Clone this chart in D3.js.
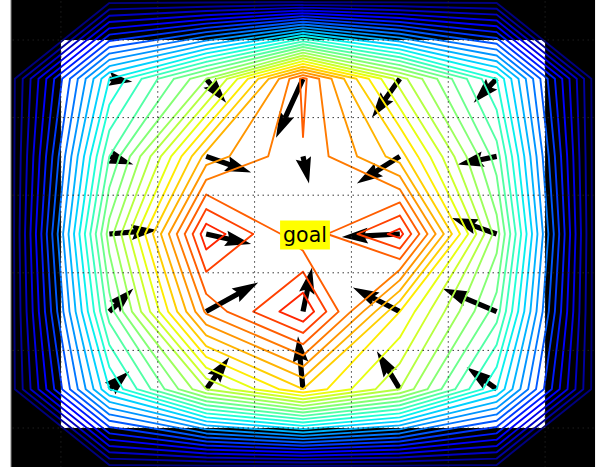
<!DOCTYPE html>
<html><head><meta charset="utf-8">
<script src="https://cdn.jsdelivr.net/npm/d3@7"></script>
<style>body{margin:0;background:#fff} svg{display:block}</style>
</head><body>
<svg id="c" width="597" height="467"></svg>
<script>
// scalar field sampled on a 7x7 grid of nodes at -0.5, 0.5, ..., 5.5 (rows top to bottom)
const B = -0.3;
const fieldRows = [
  [B, B,    B,    B,    B,    B,    B],
  [B, 12,   18,   27.3, 19.5, 13,   B],
  [B, 15,   24.4, 26.9, 23.5, 15.5, B],
  [B, 17.5, 29.7, 26.2, 29.4, 17.5, B],
  [B, 15.5, 26.2, 29.9, 22.0, 15.5, B],
  [B, 12,   19,   23,   19,   12,   B],
  [B, B,    B,    B,    B,    B,    B]
];
const fieldCoords = [-0.5, 0.5, 1.5, 2.5, 3.5, 4.5, 5.5];
const levels = d3.range(0, 30);
const colorNormMax = 33.3;
// quiver components (per cell, rows top to bottom), v positive = up
const arrowU = [
  [2.3, 2.0, -2.7, -2.8, -2.3],
  [2.4, 4.5,  0.6, -4.3, -3.9],
  [4.8, 4.5,  0.0, -5.8, -4.5],
  [2.4, 5.2,  0.9, -4.7, -5.4],
  [2.0, 2.3, -0.5, -2.3, -3.0]
];
const arrowV = [
  [-0.3, -2.4, -5.9, -3.9, -2.4],
  [-0.8, -1.6, -2.7, -2.7, -0.8],
  [ 0.4, -1.0,  0.0, -0.3,  1.6],
  [ 2.3,  2.9,  4.4,  2.4,  2.3],
  [ 1.8,  3.2,  5.3,  3.8,  2.2]
];
const gridTicks = [0, 1, 2, 3, 4, 5];
const goalLabel = "goal";
const goalCell = [2, 2];

const svg = d3.select("#c");
const xs = d3.scaleLinear().domain([-0.5, 5.5]).range([12.5, 593.5]);
const ys = d3.scaleLinear().domain([-0.5, 5.5]).range([1.2, 466.8]);
const arrowScale = d3.scaleLinear().domain([0, 1]).range([0, 10]);

// jet colormap (matplotlib segment data)
function seg(pts, t) {
  for (let i = 1; i < pts.length; i++) {
    if (t <= pts[i][0]) {
      const a = pts[i-1], b = pts[i];
      return a[1] + (b[1]-a[1]) * (t - a[0]) / (b[0]-a[0]);
    }
  }
  return pts[pts.length-1][1];
}
const jetR = [[0,0],[0.35,0],[0.66,1],[0.89,1],[1,0.5]];
const jetG = [[0,0],[0.125,0],[0.375,1],[0.64,1],[0.91,0],[1,0]];
const jetB = [[0,0.5],[0.11,1],[0.34,1],[0.65,0],[1,0]];
function jet(t) {
  t = Math.max(0, Math.min(1, t));
  return d3.rgb(255*seg(jetR,t), 255*seg(jetG,t), 255*seg(jetB,t)).toString();
}
const colorScale = d3.scaleLinear().domain([0, colorNormMax]).range([0, 1]);

// axes background
const x0 = xs(-0.516), x1 = xs(5.516);
svg.append("rect").attr("x", x0).attr("y", 0).attr("width", x1 - x0).attr("height", 467).attr("fill", "#000");
svg.append("line").attr("x1", x0).attr("x2", x0).attr("y1", 0).attr("y2", 467).attr("stroke", "#999").attr("stroke-width", 1);
svg.append("rect").attr("x", xs(0)).attr("y", ys(0)).attr("width", xs(5) - xs(0)).attr("height", ys(5) - ys(0)).attr("fill", "#fff");

// quiver arrows (matplotlib style)
const w = 5.2, hw = 3, hl = 5, hal = 4.5, minsh = hl;
const ag = svg.append("g");
for (let r = 0; r < 5; r++) {
  for (let c = 0; c < 5; c++) {
    const dx = arrowScale(arrowU[r][c]), dy = -arrowScale(arrowV[r][c]);
    const Lpx = Math.hypot(dx, dy);
    if (Lpx < w) continue;
    const L = Lpx / w;
    let X, Y;
    if (L >= minsh) {
      X = [0, L - hal, L - hl, L, L - hl, L - hal, 0];
      Y = [0.5, 0.5, hw/2, 0, -hw/2, -0.5, -0.5];
    } else {
      const s = L / minsh;
      X = [0, minsh - hal, minsh - hl, minsh, minsh - hl, minsh - hal, 0].map(v => v * s);
      Y = [0.5, 0.5, hw/2, 0, -hw/2, -0.5, -0.5].map(v => v * s);
    }
    const ang = Math.atan2(dy, dx);
    const tx = xs(c + 0.5), ty = ys(r + 0.5);
    const pts = X.map((xv, i) => {
      const px = xv * w, py = Y[i] * w;
      return [tx + px * Math.cos(ang) - py * Math.sin(ang), ty + px * Math.sin(ang) + py * Math.cos(ang)];
    });
    ag.append("polygon").attr("points", pts.map(p => p.join(",")).join(" ")).attr("fill", "#000");
  }
}

// contours: marching squares, saddles resolved by the cell mean (as matplotlib does)
function isoSegments(level) {
  const segs = [];
  const n = fieldCoords.length;
  for (let j = 0; j < n - 1; j++) {
    for (let i = 0; i < n - 1; i++) {
      const xa = fieldCoords[i], xb = fieldCoords[i+1], ya = fieldCoords[j], yb = fieldCoords[j+1];
      const tl = fieldRows[j][i], tr = fieldRows[j][i+1], br = fieldRows[j+1][i+1], bl = fieldRows[j+1][i];
      const A = [tl > level, tr > level, br > level, bl > level];
      const lerp = (v0, v1) => (level - v0) / (v1 - v0);
      const E = {};
      if (A[0] !== A[1]) E.top = [xa + (xb - xa) * lerp(tl, tr), ya];
      if (A[1] !== A[2]) E.right = [xb, ya + (yb - ya) * lerp(tr, br)];
      if (A[3] !== A[2]) E.bottom = [xa + (xb - xa) * lerp(bl, br), yb];
      if (A[0] !== A[3]) E.left = [xa, ya + (yb - ya) * lerp(tl, bl)];
      const keys = Object.keys(E);
      if (keys.length === 2) {
        segs.push([E[keys[0]], E[keys[1]]]);
      } else if (keys.length === 4) {
        const center = (tl + tr + br + bl) / 4 > level;
        const corners = [["top","left"],["top","right"],["right","bottom"],["bottom","left"]];
        corners.forEach((cn, idx) => { if (A[idx] !== center) segs.push([E[cn[0]], E[cn[1]]]); });
      }
    }
  }
  return segs;
}
const cg = svg.append("g").attr("fill", "none").attr("stroke-width", 1.9).attr("stroke-linecap", "round");
levels.forEach(level => {
  const p = d3.path();
  isoSegments(level).forEach(s => { p.moveTo(xs(s[0][0]), ys(s[0][1])); p.lineTo(xs(s[1][0]), ys(s[1][1])); });
  cg.append("path").attr("d", p.toString()).attr("stroke", jet(colorScale(level)));
});

// grid
const gg = svg.append("g").attr("stroke", "#222").attr("stroke-width", 0.9).attr("stroke-dasharray", "1.5,3.5");
gridTicks.forEach(t => {
  gg.append("line").attr("x1", xs(t)).attr("x2", xs(t)).attr("y1", ys(-0.5)).attr("y2", ys(5.5));
  gg.append("line").attr("y1", ys(t)).attr("y2", ys(t)).attr("x1", xs(-0.5)).attr("x2", xs(5.5));
});

// goal label
const gx = xs(goalCell[0] + 0.5) + 2, gy = ys(goalCell[1] + 0.5);
const lab = svg.append("g");
const txt = lab.append("text").attr("x", gx).attr("y", gy + 7.5).attr("text-anchor", "middle")
  .attr("font-family", "DejaVu Sans").attr("font-size", 20.5).attr("fill", "#000").text(goalLabel);
const bb = txt.node().getBBox();
lab.insert("rect", "text").attr("x", bb.x - 3).attr("y", gy - 13.5).attr("width", bb.width + 6).attr("height", 29).attr("fill", "#ffff00");
</script>
</body></html>
